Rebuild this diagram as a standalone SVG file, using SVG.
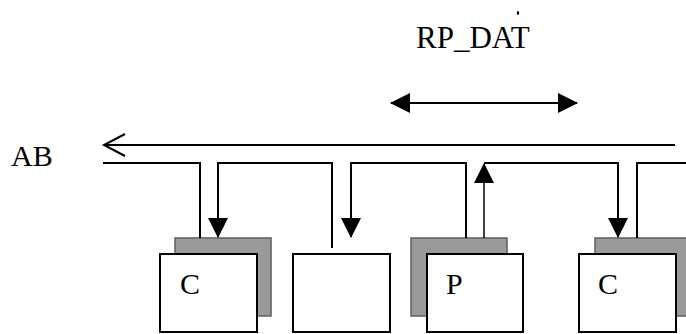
<svg xmlns="http://www.w3.org/2000/svg" width="686" height="334" viewBox="0 0 686 334">
  <style>
    .lbl { font-family: "Liberation Serif", "Times New Roman", serif; font-size: 30px; fill: #000; }
    .box { fill: #fff; stroke: #000; stroke-width: 2; }
    .shadow { fill: #9a9a9a; stroke: #5e5e5e; stroke-width: 1.5; }
    .wire { fill: none; stroke: #000; stroke-width: 2; }
  </style>
  <defs>
    <marker id="ah" viewBox="0 0 20 20" markerUnits="userSpaceOnUse" markerWidth="20" markerHeight="20" refX="19" refY="10" orient="auto">
      <path d="M0,0 L20,10 L0,20 z" fill="#000"/>
    </marker>
    <marker id="ahs" viewBox="0 0 20 20" markerUnits="userSpaceOnUse" markerWidth="20" markerHeight="20" refX="1" refY="10" orient="auto">
      <path d="M20,0 L0,10 L20,20 z" fill="#000"/>
    </marker>
  </defs>

  <g id="label-AB"><text class="lbl" x="11" y="166">AB</text></g>
  <g id="label-RP_DAT">
    <text class="lbl" x="416" y="48" style="font-size:31px">RP_DAT</text>
    <ellipse cx="518" cy="13" rx="1.2" ry="2" fill="#000"/>
  </g>

  <g id="node-C1">
    <rect class="shadow" x="175" y="238" width="96" height="78"/>
    <rect class="box" x="160" y="254" width="97" height="78"/>
    <text class="lbl" x="180" y="294">C</text>
  </g>
  <g id="node-empty">
    <rect class="box" x="293" y="254" width="97" height="78"/>
  </g>
  <g id="node-P">
    <rect class="shadow" x="411" y="238" width="96" height="78"/>
    <rect class="box" x="427" y="254" width="96" height="78"/>
    <text class="lbl" x="446" y="294">P</text>
  </g>
  <g id="node-C2">
    <rect class="shadow" x="595" y="238" width="96" height="78"/>
    <rect class="box" x="579" y="254" width="97" height="78"/>
    <text class="lbl" x="598" y="294">C</text>
  </g>

  <g id="connectors">
    <line class="wire" x1="391" y1="103" x2="577" y2="103" marker-start="url(#ahs)" marker-end="url(#ah)"/>
    <line class="wire" x1="675" y1="145" x2="104" y2="145"/>
    <polyline class="wire" points="125,134 104,145 125,156"/>
    <path class="wire" d="M103,163 H200 V238"/>
    <path class="wire" d="M332,248 V163 H218 V237" marker-end="url(#ah)"/>
    <path class="wire" d="M466,238 V163 H351 V237" marker-end="url(#ah)"/>
    <line x1="484" y1="238" x2="484" y2="164" stroke="#000" stroke-width="1.5" marker-end="url(#ah)"/>
    <path class="wire" d="M484,163 H618 V237" marker-end="url(#ah)"/>
    <path class="wire" d="M637,238 V163 H686"/>
  </g>
</svg>
